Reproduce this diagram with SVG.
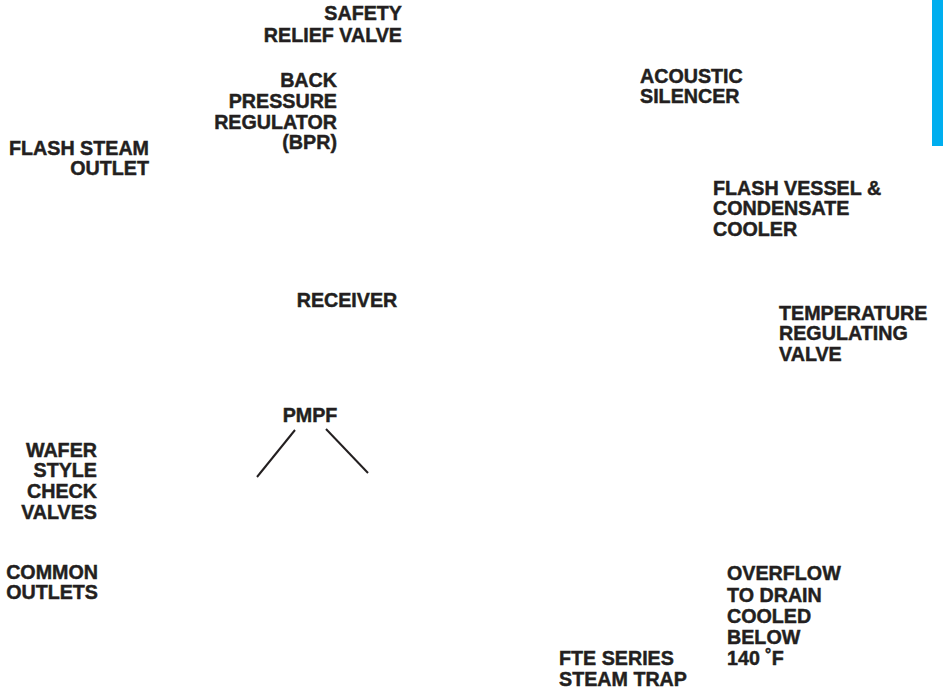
<svg xmlns="http://www.w3.org/2000/svg" width="943" height="692" viewBox="0 0 943 692">
<style>
text{font-family:"Liberation Sans",Arial,Helvetica,sans-serif;font-weight:bold;font-size:19.7px;fill:#231f20;stroke:#231f20;stroke-width:0.45}
.r{text-anchor:end}
.c{text-anchor:middle}
.ln{stroke:#231f20;stroke-width:2;fill:none}
</style>
<rect x="0" y="0" width="943" height="692" fill="#ffffff"/>
<rect id="tab" x="932" y="0" width="11" height="146" fill="#00aeef"/>
<g id="safety-relief-valve"><text class="r" x="402" y="20">SAFETY</text><text class="r" x="402" y="42">RELIEF VALVE</text></g>
<g id="bpr"><text class="r" x="337" y="87">BACK</text><text class="r" x="337" y="108">PRESSURE</text><text class="r" x="337" y="129">REGULATOR</text><text class="r" x="337" y="149">(BPR)</text></g>
<g id="flash-steam-outlet"><text class="r" x="149" y="155">FLASH STEAM</text><text class="r" x="149" y="175">OUTLET</text></g>
<g id="acoustic-silencer"><text x="640" y="83">ACOUSTIC</text><text x="640" y="103">SILENCER</text></g>
<g id="flash-vessel"><text x="713" y="195">FLASH VESSEL &amp;</text><text x="713" y="215">CONDENSATE</text><text x="713" y="236">COOLER</text></g>
<g id="temperature-regulating-valve"><text x="779" y="320">TEMPERATURE</text><text x="779" y="340">REGULATING</text><text x="779" y="361">VALVE</text></g>
<g id="receiver"><text class="c" x="347" y="307">RECEIVER</text></g>
<g id="pmpf"><text class="c" x="310" y="422">PMPF</text></g>
<g id="wafer-check-valves"><text class="r" x="97" y="457">WAFER</text><text class="r" x="97" y="477">STYLE</text><text class="r" x="97" y="498">CHECK</text><text class="r" x="97" y="519">VALVES</text></g>
<g id="common-outlets"><text class="r" x="98" y="579">COMMON</text><text class="r" x="98" y="599">OUTLETS</text></g>
<g id="fte-steam-trap"><text x="559" y="665">FTE SERIES</text><text x="559" y="686">STEAM TRAP</text></g>
<g id="overflow"><text x="727" y="580">OVERFLOW</text><text x="727" y="602">TO DRAIN</text><text x="727" y="623">COOLED</text><text x="727" y="644">BELOW</text><text x="727" y="665">140 ˚F</text></g>
<g id="connectors">
<line class="ln" x1="295" y1="430" x2="257" y2="477"/>
<line class="ln" x1="326" y1="429" x2="368" y2="473"/>
</g>
</svg>
